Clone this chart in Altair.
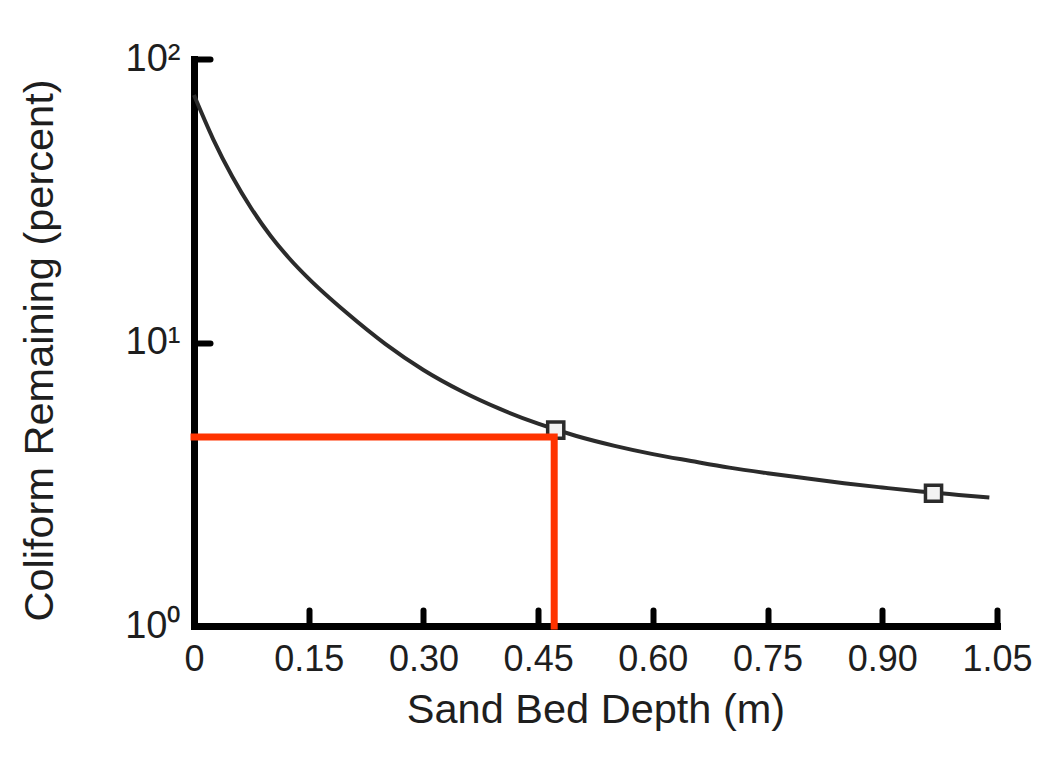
import altair as alt
import pandas as pd

# Curve (sand bed depth in m, coliform remaining in %)
depth = [0.0, 0.025, 0.05, 0.075, 0.10, 0.125, 0.15, 0.20, 0.25, 0.30, 0.35, 0.40,
         0.45, 0.50, 0.55, 0.60, 0.65, 0.70, 0.75, 0.80, 0.85, 0.90, 0.95, 1.00, 1.04]
remaining = [74.6, 52.2, 38.5, 29.7, 23.8, 19.75, 16.8, 12.7, 9.89, 8.00, 6.73, 5.83,
             5.17, 4.68, 4.32, 4.04, 3.82, 3.62, 3.46, 3.32, 3.19, 3.08, 2.98, 2.90, 2.84]

# Square markers on the curve
marker_depth = [0.473, 0.967]
marker_remaining = [4.91, 2.94]

# Red read-off guide
guide_depth = [0.0, 0.471, 0.471]
guide_remaining = [4.64, 4.64, 1.0]

# Axis ticks and labels
x_ticks = [0, 0.15, 0.30, 0.45, 0.60, 0.75, 0.90, 1.05]
x_tick_labels = ["0", "0.15", "0.30", "0.45", "0.60", "0.75", "0.90", "1.05"]
y_ticks = [1, 10, 100]
y_tick_labels = ["10\u2070", "10\u00b9", "10\u00b2"]

curve_df = pd.DataFrame({"depth": depth, "remaining": remaining})
marker_df = pd.DataFrame({"depth": marker_depth, "remaining": marker_remaining})
guide_df = pd.DataFrame({"depth": guide_depth, "remaining": guide_remaining,
                         "i": list(range(len(guide_depth)))})

def label_expr(values, labels):
    expr = "''"
    for v, l in reversed(list(zip(values, labels))):
        expr = f"abs(datum.value - {v}) < 1e-6 ? '{l}' : ({expr})"
    return expr

FONT = "Liberation Sans"
xs = alt.Scale(domain=[0, 1.05], nice=False, zero=False)
ys = alt.Scale(type="log", domain=[1, 100], nice=False)

x_main = alt.Axis(
    orient="bottom", values=x_ticks, labelExpr=label_expr(x_ticks, x_tick_labels),
    labelFont=FONT, labelFontSize=36, labelColor="#1e1e1e", labelPadding=16,
    labelFlush=False, labelOverlap=False, ticks=False, grid=False,
    domain=True, domainColor="black", domainWidth=7, domainCap="square",
    title="Sand Bed Depth (m)", titleFont=FONT, titleFontSize=41.5,
    titleFontWeight="normal", titleColor="#1e1e1e", titlePadding=12,
)
y_main = alt.Axis(
    orient="left", values=y_ticks, labelExpr=label_expr(y_ticks, y_tick_labels),
    labelFont=FONT, labelFontSize=38, labelColor="#1e1e1e", labelPadding=14,
    labelFlush=False, labelOverlap=False, ticks=False, grid=False,
    domain=True, domainColor="black", domainWidth=7, domainCap="square",
    title="Coliform Remaining (percent)", titleFont=FONT, titleFontSize=41.5,
    titleFontWeight="normal", titleColor="#1e1e1e",
    titleAngle=270, titleAlign="center", titleBaseline="middle",
    titleX=-154, titleY=291,
)
x_ticks_axis = alt.Axis(
    orient="bottom", offset=-16, values=x_ticks, labels=False, domain=False,
    grid=False, ticks=True, tickSize=16, tickWidth=6, tickColor="black",
    tickCap="round", title=None,
)
y_ticks_axis = alt.Axis(
    orient="left", offset=-16, values=y_ticks, labels=False, domain=False,
    grid=False, ticks=True, tickSize=16, tickWidth=6, tickColor="black",
    tickCap="round", title=None,
)

curve = alt.Chart(curve_df).mark_line(
    color="#2b2b2b", strokeWidth=4, interpolate="monotone"
).encode(
    x=alt.X("depth:Q", scale=xs, axis=x_main),
    y=alt.Y("remaining:Q", scale=ys, axis=y_main),
)

markers = alt.Chart(marker_df).mark_point(
    shape="square", filled=True, fill="#f2f2f2", stroke="#2b2b2b",
    strokeWidth=3.5, size=260, opacity=1
).encode(
    x=alt.X("depth:Q", scale=xs, axis=x_ticks_axis),
    y=alt.Y("remaining:Q", scale=ys, axis=y_ticks_axis),
)

guide = alt.Chart(guide_df).mark_line(
    color="#ff3300", strokeWidth=7, strokeJoin="miter", strokeCap="square"
).encode(
    x=alt.X("depth:Q", scale=xs, axis=None),
    y=alt.Y("remaining:Q", scale=ys, axis=None),
    order=alt.Order("i:Q"),
)

chart = alt.layer(curve, markers, guide).resolve_axis(
    x="independent", y="independent"
).properties(
    width=803, height=567,
    autosize=alt.AutoSizeParams(type="none"),
    padding={"left": 186, "top": 51, "right": 36, "bottom": 135},
    background="white",
).configure_view(stroke=None)

chart.save("out.html", embed_options={"renderer": "svg", "actions": False})
